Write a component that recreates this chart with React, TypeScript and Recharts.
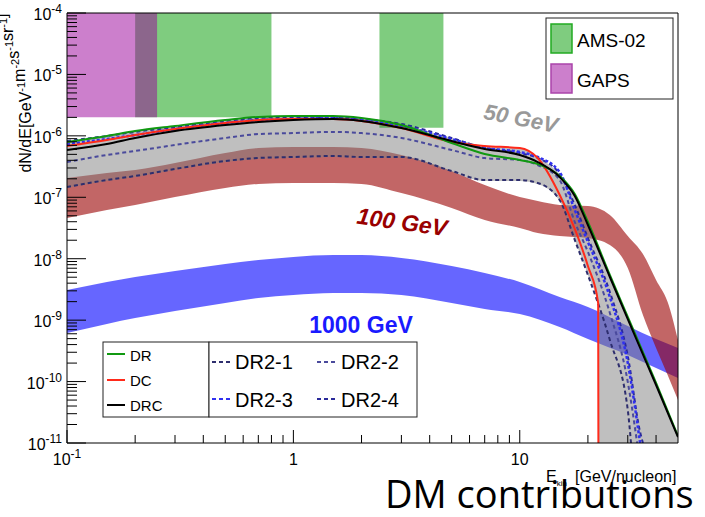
import React from 'react';
import {
  Area,
  ComposedChart,
  Line,
  ReferenceArea,
  ReferenceLine,
  XAxis,
  YAxis
} from 'recharts';

// energy [GeV/nucleon], flux band [low, high] in GeV^-1 m^-2 s^-1 sr^-1
const band1000: [number, number, number][] = [
  [0.1, 6.18e-10, 3.1e-9],
  [0.15, 8.66e-10, 4.18e-9],
  [0.2, 1.08e-9, 5.04e-9],
  [0.3, 1.41e-9, 6.31e-9],
  [0.5, 1.9e-9, 8.21e-9],
  [0.7, 2.29e-9, 9.53e-9],
  [1, 2.57e-9, 1.07e-8],
  [1.5, 2.77e-9, 1.15e-8],
  [2, 2.77e-9, 1.15e-8],
  [3, 2.57e-9, 1.03e-8],
  [5, 1.9e-9, 7.61e-9],
  [7, 1.52e-9, 5.86e-9],
  [10, 1.26e-9, 4.18e-9],
  [15, 7.74e-10, 2.38e-9],
  [20, 4.93e-10, 1.64e-9],
  [30, 2.71e-10, 8.03e-10],
  [40, 1.66e-10, 4.93e-10],
  [50, 1.14e-10, 3.52e-10]
];

const band100: [number, number, number][] = [
  [0.1, 4.6e-8, 2.06e-7],
  [0.15, 6.21e-8, 2.48e-7],
  [0.2, 7.49e-8, 2.78e-7],
  [0.3, 1.01e-7, 3.62e-7],
  [0.5, 1.42e-7, 5.26e-7],
  [0.7, 1.65e-7, 6.34e-7],
  [1, 1.71e-7, 6.59e-7],
  [1.5, 1.71e-7, 6.59e-7],
  [2, 1.65e-7, 6.34e-7],
  [3, 1.17e-7, 4.88e-7],
  [5, 6.69e-8, 2.68e-7],
  [7, 4.27e-8, 1.58e-7],
  [10, 3.16e-8, 1.01e-7],
  [12, 2.62e-8, 8.7e-8],
  [15, 2.34e-8, 7.49e-8],
  [20, 2.17e-8, 7.21e-8],
  [25, 1.67e-8, 5.15e-8],
  [30, 7.06e-9, 2.34e-8],
  [35, 1.21e-9, 1.19e-8],
  [40, 3.52e-10, 4.5e-9],
  [45, 1.28e-10, 1.97e-9],
  [50, 5.01e-11, 4.75e-10]
];

const band50: [number, number, number][] = [
  [0.1, 1.42e-7, 8.25e-7],
  [0.15, 1.84e-7, 9.95e-7],
  [0.2, 2.14e-7, 1.2e-6],
  [0.3, 2.78e-7, 1.45e-6],
  [0.5, 3.75e-7, 1.81e-6],
  [0.7, 4.2e-7, 2.03e-6],
  [1, 4.36e-7, 2.1e-6],
  [1.5, 4.53e-7, 2.1e-6],
  [2, 4.36e-7, 1.95e-6],
  [3, 4.36e-7, 1.56e-6],
  [5, 2.58e-7, 9.23e-7],
  [7, 1.84e-7, 6.84e-7],
  [10, 1.84e-7, 6.34e-7],
  [12, 1.65e-7, 4.53e-7],
  [15, 8.7e-8, 2.39e-7],
  [17.5, 2.02e-8, 1.13e-7],
  [20, 5.43e-9, 3.96e-8],
  [22.2, 1.64e-9, 1.44e-8],
  [22.25, 1e-11, 1.42e-8],
  [25, 1e-11, 5.43e-9],
  [30, 1e-11, 1.13e-9],
  [40, 1e-11, 9.48e-11],
  [50, 1e-11, 1.3e-11]
];

const drFlux: [number, number][] = [
  [0.1, 7.94e-7], [0.15, 9.95e-7], [0.2, 1.2e-6], [0.3, 1.45e-6], [0.5, 1.81e-6],
  [0.7, 2.03e-6], [1, 2.1e-6], [1.5, 2.1e-6], [2, 1.95e-6], [3, 1.5e-6],
  [5, 7.65e-7], [7, 5.07e-7], [10, 4.05e-7], [12, 3.48e-7], [15, 2.22e-7],
  [17.5, 1.13e-7], [20, 3.96e-8], [25, 5.43e-9], [30, 1.13e-9], [40, 9.48e-11],
  [50, 1.3e-11]
];

const dcFlux: [number, number][] = [
  [0.1, 6.84e-7], [0.15, 8.56e-7], [0.2, 1.03e-6], [0.3, 1.29e-6], [0.5, 1.62e-6],
  [0.7, 1.81e-6], [1, 1.88e-6], [1.5, 1.88e-6], [2, 1.75e-6], [3, 1.34e-6],
  [5, 7.94e-7], [7, 6.84e-7], [10, 6.34e-7], [12, 4.36e-7], [15, 1.1e-7],
  [17.5, 3.05e-8], [20, 7.61e-9], [22.2, 1.9e-9], [22.25, 1e-11]
];

const drcFlux: [number, number][] = [
  [0.1, 5.89e-7], [0.15, 7.37e-7], [0.2, 9.23e-7], [0.3, 1.2e-6], [0.5, 1.5e-6],
  [0.7, 1.68e-6], [1, 1.81e-6], [1.5, 1.88e-6], [2, 1.75e-6], [3, 1.34e-6],
  [5, 8.25e-7], [7, 6.11e-7], [10, 4.88e-7], [12, 3.75e-7], [15, 2.14e-7],
  [17.5, 1.05e-7], [20, 3.54e-8], [25, 5.04e-9], [30, 1.04e-9], [40, 8.8e-11],
  [50, 1.25e-11]
];

const dr21Flux: [number, number][] = [
  [0.1, 1.47e-7], [0.15, 1.91e-7], [0.2, 2.22e-7], [0.3, 2.89e-7], [0.5, 3.9e-7],
  [0.7, 4.36e-7], [1, 4.53e-7], [1.5, 4.7e-7], [2, 4.53e-7], [3, 4.53e-7],
  [5, 2.68e-7], [7, 1.91e-7], [10, 1.91e-7], [12, 1.71e-7], [15, 9.03e-8],
  [17.5, 2.02e-8], [20, 5.43e-9], [25, 4.75e-10], [30, 3.45e-11], [31, 1e-11]
];

const dr22Flux: [number, number][] = [
  [0.1, 3.75e-7], [0.15, 4.88e-7], [0.2, 5.67e-7], [0.3, 7.1e-7], [0.5, 9.23e-7],
  [0.7, 1.07e-6], [1, 1.11e-6], [1.5, 1.16e-6], [2, 1.11e-6], [3, 9.23e-7],
  [5, 5.89e-7], [7, 4.36e-7], [10, 4.05e-7], [12, 3.35e-7], [15, 1.91e-7],
  [17.5, 3.96e-8], [20, 1.29e-8], [25, 1.31e-9], [30, 9.84e-11], [33, 1e-11]
];

const dr23Flux: [number, number][] = [
  [0.1, 7.37e-7], [0.15, 8.89e-7], [0.2, 1.03e-6], [0.3, 1.29e-6], [0.5, 1.62e-6],
  [0.7, 1.81e-6], [1, 1.88e-6], [1.5, 1.95e-6], [2, 1.81e-6], [3, 1.45e-6],
  [5, 8.89e-7], [7, 6.34e-7], [10, 5.46e-7], [12, 4.53e-7], [15, 2.58e-7],
  [17.5, 6.21e-8], [20, 1.87e-8], [25, 2.38e-9], [30, 2.01e-10], [34, 1e-11]
];

const dr24Flux: [number, number][] = [
  [0.1, 8.25e-7], [0.15, 9.95e-7], [0.2, 1.16e-6], [0.3, 1.39e-6], [0.5, 1.75e-6],
  [0.7, 1.95e-6], [1, 2.03e-6], [1.5, 2.03e-6], [2, 1.88e-6], [3, 1.56e-6],
  [5, 9.23e-7], [7, 6.34e-7], [10, 5.26e-7], [12, 4.36e-7], [15, 2.39e-7],
  [17.5, 7.49e-8], [20, 2.17e-8], [25, 2.87e-9], [30, 2.61e-10], [34, 1.51e-11],
  [35, 1e-11]
];

// experiment sensitivity boxes: [Emin, Emax, flux floor]
const amsBoxes: [number, number, number][] = [
  [0.2, 0.8, 2e-6],
  [2.4, 4.6, 1.35e-6]
];
const gapsBox: [number, number, number] = [0.1, 0.25, 2e-6];

const yMajor = [1e-11, 1e-10, 1e-9, 1e-8, 1e-7, 1e-6, 1e-5, 1e-4];
const xMajor = [0.1, 1, 10];
const xMinor = [0.2, 0.3, 0.4, 0.5, 0.6, 0.7, 0.8, 0.9, 2, 3, 4, 5, 6, 7, 8, 9, 20, 30, 40];

const yTicks: number[] = [];
yMajor.forEach((m, i) => {
  yTicks.push(m);
  if (i < yMajor.length - 1) {
    for (let k = 2; k <= 9; k++) yTicks.push(m * k);
  }
});
const xTicks = [...xMajor, ...xMinor].sort((a, b) => a - b);

const toBand = (rows: [number, number, number][]) =>
  rows.map(([x, lo, hi]) => ({ x, v: [lo, hi] }));
const toLine = (rows: [number, number][]) => rows.map(([x, y]) => ({ x, y }));

const isDecade = (v: number) =>
  Math.abs(Math.log10(v) - Math.round(Math.log10(v))) < 1e-6;

function YTick({ x, y, payload }: any) {
  const v = payload.value as number;
  const major = isDecade(v);
  const e = Math.round(Math.log10(v));
  return (
    <g>
      <line stroke="#000" x1={x} x2={x + (major ? 19 : 10)} y1={y} y2={y} />
      {major && (
        <text fill="#000" fontSize={16} textAnchor="end" x={x - 5} y={y + 7}>
          10
          <tspan dy={-7} fontSize={12}>{`-${-e}`}</tspan>
        </text>
      )}
    </g>
  );
}

function XTick({ x, y, payload }: any) {
  const v = payload.value as number;
  const major = isDecade(v);
  return (
    <g>
      <line stroke="#000" x1={x} x2={x} y1={y} y2={y - (major ? 13 : 8)} />
      {major && (
        <text fill="#000" fontSize={16} textAnchor="middle" x={x} y={y + 22}>
          {v < 1 ? (
            <>
              10
              <tspan dy={-7} fontSize={12}>-1</tspan>
            </>
          ) : (
            String(v)
          )}
        </text>
      )}
    </g>
  );
}

const sup = (t: string) => (
  <>
    <tspan dy={-6} fontSize={11}>{t}</tspan>
    <tspan dy={6}>{''}</tspan>
  </>
);

export default function App() {
  const lineProps = {
    dataKey: 'y',
    dot: false,
    activeDot: false,
    isAnimationActive: false,
    type: 'monotone' as const
  };
  const areaProps = {
    dataKey: 'v',
    dot: false,
    activeDot: false,
    isAnimationActive: false,
    stroke: 'none',
    type: 'monotone' as const
  };

  return (
    <div
      style={{
        position: 'absolute',
        left: 0,
        top: 0,
        width: 705,
        height: 517,
        background: '#fff',
        fontFamily: '"Liberation Sans", Arial, sans-serif'
      }}
    >
      <ComposedChart height={517} margin={{ top: 13, right: 27, bottom: 0, left: 0 }} width={705}>
        <Area {...areaProps} data={toBand(band1000)} fill="#0000ff" fillOpacity={0.6} />
        <Area {...areaProps} data={toBand(band100)} fill="#990000" fillOpacity={0.6} />
        <Area {...areaProps} data={toBand(band50)} fill="#808080" fillOpacity={0.5} />

        {amsBoxes.map(([x1, x2, y1]) => (
          <ReferenceArea
            fill="#009900"
            fillOpacity={0.5}
            key={x1}
            stroke="none"
            x1={x1}
            x2={x2}
            y1={y1}
            y2={1e-4}
          />
        ))}
        <ReferenceArea
          fill="#990099"
          fillOpacity={0.5}
          stroke="none"
          x1={gapsBox[0]}
          x2={gapsBox[1]}
          y1={gapsBox[2]}
          y2={1e-4}
        />

        <Line {...lineProps} data={toLine(dr21Flux)} stroke="#2e2e6e" strokeDasharray="4 3" strokeWidth={2} />
        <Line {...lineProps} data={toLine(dr22Flux)} stroke="#4a4a9c" strokeDasharray="4 3" strokeWidth={2} />
        <Line {...lineProps} data={toLine(dr24Flux)} stroke="#2a2a9a" strokeDasharray="4 3" strokeWidth={2} />
        <Line {...lineProps} data={toLine(dr23Flux)} stroke="#3030f0" strokeDasharray="3 2" strokeWidth={2.5} />
        <Line {...lineProps} data={toLine(dcFlux)} stroke="#ff2a1a" strokeWidth={2} />
        <Line {...lineProps} data={toLine(drFlux)} stroke="#119911" strokeWidth={2} />
        <Line {...lineProps} data={toLine(drcFlux)} stroke="#000" strokeWidth={2} />

        <ReferenceLine stroke="#000" y={1e-4} />
        <ReferenceLine stroke="#000" x={50} />

        <XAxis
          allowDataOverflow
          axisLine={{ stroke: '#000' }}
          dataKey="x"
          domain={[0.1, 50]}
          height={74}
          interval={0}
          scale="log"
          tick={<XTick />}
          tickLine={false}
          tickMargin={0}
          tickSize={0}
          ticks={xTicks}
          type="number"
        />
        <YAxis
          allowDataOverflow
          axisLine={{ stroke: '#000' }}
          domain={[1e-11, 1e-4]}
          interval={0}
          scale="log"
          tick={<YTick />}
          tickLine={false}
          tickMargin={0}
          tickSize={0}
          ticks={yTicks}
          type="number"
          width={67}
        />
      </ComposedChart>

      <svg
        height={517}
        style={{ position: 'absolute', left: 0, top: 0, pointerEvents: 'none' }}
        width={705}
      >
        <text fill="#000" fontSize={16} textAnchor="middle" transform="translate(31,93) rotate(-90)">
          dN/dE[GeV{sup('-1')}m{sup('-2')}s{sup('-1')}sr{sup('-1')}]
        </text>

        <text fill="#000" fontSize={16} x={546} y={482}>
          E<tspan dy={4} fontSize={8}>kin</tspan>
        </text>
        <text fill="#000" fontSize={16} x={575} y={482}>[GeV/nucleon]</text>

        <text
          fill="#999"
          fontSize={22}
          fontStyle="italic"
          fontWeight="bold"
          textAnchor="middle"
          transform="rotate(11 521 118)"
          x={521}
          y={126}
        >
          50 GeV
        </text>
        <text
          fill="#990000"
          fontSize={23}
          fontStyle="italic"
          fontWeight="bold"
          textAnchor="middle"
          transform="rotate(8 402 222)"
          x={402}
          y={230}
        >
          100 GeV
        </text>
        <text fill="#1a1aff" fontSize={23} fontWeight="bold" textAnchor="middle" x={361} y={333}>
          1000 GeV
        </text>

        <rect fill="#fff" height={81} stroke="#222" width={127} x={546} y={18} />
        <rect fill="#009900" fillOpacity={0.5} height={29} stroke="#22aa22" strokeWidth={1.5} width={21} x={551} y={24} />
        <text fill="#000" fontSize={19} x={577} y={47}>AMS-02</text>
        <rect fill="#990099" fillOpacity={0.5} height={29} stroke="#aa44aa" strokeWidth={1.5} width={21} x={551} y={64} />
        <text fill="#000" fontSize={19} x={577} y={87}>GAPS</text>

        <rect fill="#fff" height={75} stroke="#222" width={106} x={103} y={342} />
        <line stroke="#119911" strokeWidth={2} x1={107} x2={125} y1={354} y2={354} />
        <text fill="#000" fontSize={15} x={130} y={361}>DR</text>
        <line stroke="#ff2a1a" strokeWidth={2} x1={107} x2={125} y1={380} y2={380} />
        <text fill="#000" fontSize={15} x={130} y={386}>DC</text>
        <line stroke="#000" strokeWidth={2} x1={107} x2={125} y1={405} y2={405} />
        <text fill="#000" fontSize={15} x={130} y={411}>DRC</text>

        <rect fill="#fff" height={75} stroke="#222" width={208} x={209} y={342} />
        <line stroke="#2e2e6e" strokeDasharray="4 3" strokeWidth={2} x1={212} x2={232} y1={362} y2={362} />
        <text fill="#000" fontSize={20} x={235} y={369}>DR2-1</text>
        <line stroke="#4a4a9c" strokeDasharray="4 3" strokeWidth={2} x1={317} x2={337} y1={362} y2={362} />
        <text fill="#000" fontSize={20} x={341} y={369}>DR2-2</text>
        <line stroke="#3030f0" strokeDasharray="4 3" strokeWidth={2} x1={212} x2={232} y1={399} y2={399} />
        <text fill="#000" fontSize={20} x={235} y={407}>DR2-3</text>
        <line stroke="#2a2a9a" strokeDasharray="4 3" strokeWidth={2} x1={317} x2={337} y1={399} y2={399} />
        <text fill="#000" fontSize={20} x={341} y={407}>DR2-4</text>

        <text fill="#000" fontFamily='"Open Sans", sans-serif' fontSize={38} x={385} y={508}>
          DM contributions
        </text>
      </svg>
    </div>
  );
}
